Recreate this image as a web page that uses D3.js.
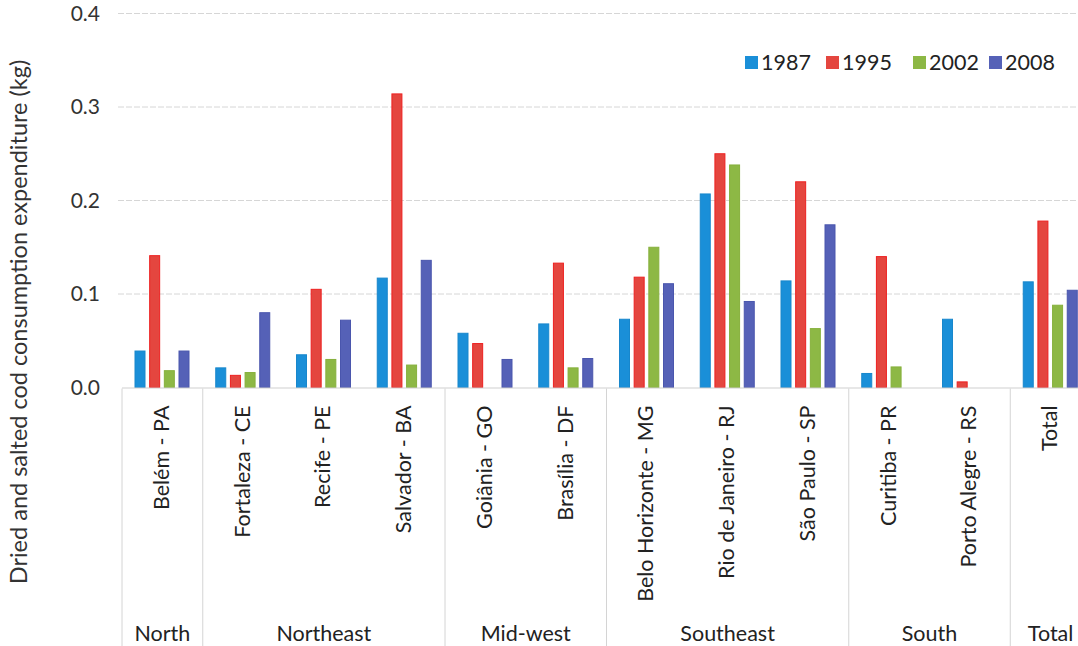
<!DOCTYPE html>
<html><head><meta charset="utf-8">
<script src="https://cdn.jsdelivr.net/npm/d3@7"></script>
<style>
html,body{margin:0;padding:0;background:#fff;overflow:hidden;}
svg{display:block;font-family:Lato,"Open Sans",sans-serif;}
</style></head>
<body><svg id="chart" width="1078" height="646"></svg>
<script>
const cities = ["Belém - PA","Fortaleza - CE","Recife - PE","Salvador - BA","Goiânia - GO","Brasília - DF","Belo Horizonte - MG","Rio de Janeiro - RJ","São Paulo - SP","Curitiba - PR","Porto Alegre - RS","Total"];
const regions = ["North","Northeast","Northeast","Northeast","Mid-west","Mid-west","Southeast","Southeast","Southeast","South","South","Total"];
const years = ["1987","1995","2002","2008"];
const v1987 = [0.039,0.021,0.035,0.117,0.058,0.068,0.073,0.207,0.114,0.015,0.073,0.113];
const v1995 = [0.141,0.013,0.105,0.314,0.047,0.133,0.118,0.250,0.220,0.140,0.006,0.178];
const v2002 = [0.018,0.016,0.030,0.024,0,0.021,0.150,0.238,0.063,0.022,0,0.088];
const v2008 = [0.039,0.080,0.072,0.136,0.030,0.031,0.111,0.092,0.174,0,0,0.104];
const yTicks = [0,0.1,0.2,0.3,0.4];
const colors = ["#1a8fd8","#e4463f","#8db845","#5561b7"];
const strokes = ["#1887cc","#ee2020","#86b03c","#4a56ad"];

const series = [v1987,v1995,v2002,v2008];
const svg = d3.select("#chart");
const pLeft = 122, pRight = 1091, pTop = 13.5, pBottom = 387.5;

const y = d3.scaleLinear().domain([0,0.4]).range([pBottom, pTop]);
const x0 = d3.scaleBand().domain(cities).range([pLeft, pRight]).padding(0);
const x1 = d3.scaleBand().domain(years).range([12.5, 67.5]).paddingInner(0.25).paddingOuter(0);

// gridlines
svg.append("g").selectAll("line").data(yTicks.filter(t=>t>0)).join("line")
  .attr("x1", pLeft-4).attr("x2", pRight)
  .attr("y1", d=>y(d)).attr("y2", d=>y(d))
  .attr("stroke","#d6d6d6").attr("stroke-width",1).attr("stroke-dasharray","6,2");

// y axis labels
const yAxis = d3.axisLeft(y).tickValues(yTicks).tickFormat(d3.format(".1f")).tickSize(0).tickPadding(0);
const ya = svg.append("g").attr("transform",`translate(${pLeft-22},0)`).call(yAxis);
ya.select(".domain").remove();
ya.selectAll("text").attr("font-size",21).attr("fill","#333").attr("font-family","Lato,sans-serif");

// bars
const g = svg.append("g").selectAll("g").data(cities).join("g")
  .attr("transform", d=>`translate(${x0(d)},0)`);
g.selectAll("rect").data((d,i)=>years.map((yr,j)=>({yr, j, v: series[j][i]})).filter(d=>d.v>0)).join("rect")
  .attr("x", d=>x1(d.yr)+0.5).attr("width", x1.bandwidth()-1)
  .attr("y", d=>y(d.v)).attr("height", d=>pBottom - y(d.v))
  .attr("fill", d=>colors[d.j]).attr("stroke", d=>strokes[d.j]).attr("stroke-width",1);

// baseline
svg.append("line").attr("x1",pLeft).attr("x2",pRight).attr("y1",pBottom+0.5).attr("y2",pBottom+0.5)
  .attr("stroke","#cfcfcf").attr("stroke-width",1.2);

// region dividers
const boundaries = [0];
for (let i=1;i<cities.length;i++) if (regions[i]!==regions[i-1]) boundaries.push(i);
svg.append("g").selectAll("line").data(boundaries).join("line")
  .attr("x1", i=>x0(cities[i])).attr("x2", i=>x0(cities[i]))
  .attr("y1", pBottom+1).attr("y2", 646)
  .attr("stroke","#d4d4d4").attr("stroke-width",1);

// city labels
const xAxis = d3.axisBottom(x0).tickSize(0).tickPadding(0);
const xa = svg.append("g").attr("transform",`translate(0,${pBottom})`).call(xAxis);
xa.select(".domain").remove();
xa.selectAll("text")
  .attr("transform","rotate(-90)")
  .attr("x",-18).attr("y",-1).attr("dy","0.35em")
  .attr("text-anchor","end")
  .attr("font-size",21.5).attr("fill","#222").attr("font-family","Lato,sans-serif");

// region labels
const regionGroups = [];
boundaries.forEach((b,k)=>{
  const e = k+1<boundaries.length ? boundaries[k+1] : cities.length;
  regionGroups.push({name: regions[b], x: (x0(cities[b]) + x0(cities[e-1]) + x0.bandwidth())/2});
});
svg.append("g").selectAll("text").data(regionGroups).join("text")
  .attr("x", d=>d.x).attr("y", 641)
  .attr("text-anchor","middle").attr("font-size",21.5).attr("fill","#222")
  .text(d=>d.name);

// y title
svg.append("text").attr("transform","translate(27,322) rotate(-90)")
  .attr("text-anchor","middle").attr("font-size",23.5).attr("fill","#333")
  .text("Dried and salted cod consumption expenditure (kg)");

// legend
const legX = [745, 826, 913, 989];
const lg = svg.append("g").selectAll("g").data(years).join("g")
  .attr("transform",(d,i)=>`translate(${legX[i]},56)`);
lg.append("rect").attr("width",13).attr("height",13).attr("fill",(d,i)=>colors[i]);
lg.append("text").attr("x",16).attr("y",6.5).attr("dy","0.36em").attr("font-size",21.5).attr("fill","#222").text(d=>d);
</script></body></html>
